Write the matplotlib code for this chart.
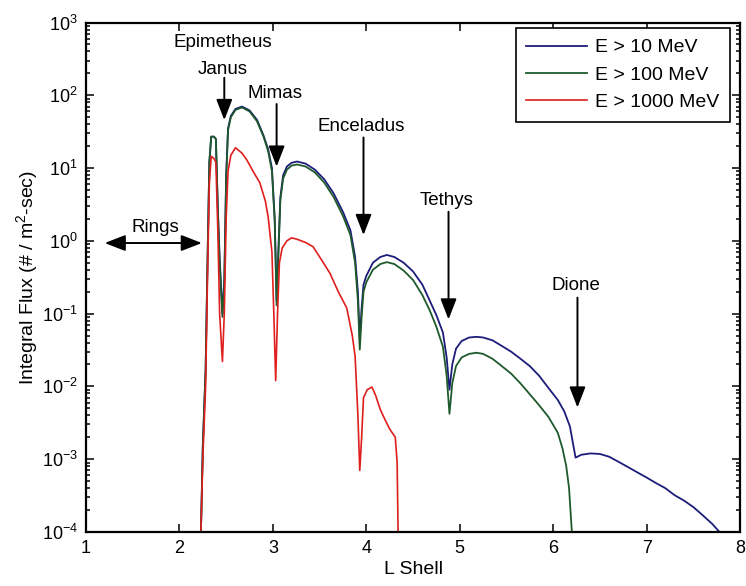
import matplotlib
matplotlib.use("Agg")
import matplotlib.pyplot as plt
from matplotlib.ticker import NullFormatter, FixedLocator, LogFormatterMathtext

plt.rcParams['font.family'] = ['Liberation Sans', 'DejaVu Sans']
plt.rcParams['mathtext.fontset'] = 'custom'
plt.rcParams['mathtext.rm'] = 'Liberation Sans'
plt.rcParams['mathtext.it'] = 'Liberation Sans'

# ---- data ----
L_blue = [2.23, 2.25, 2.28, 2.30, 2.32, 2.34, 2.37, 2.39, 2.41, 2.43, 2.46, 2.48, 2.50, 2.52,
          2.55, 2.60, 2.67, 2.75, 2.83, 2.90, 2.95, 2.99, 3.02, 3.04, 3.06, 3.08, 3.11, 3.15,
          3.20, 3.26, 3.35, 3.45, 3.55, 3.65, 3.75, 3.83, 3.88, 3.91, 3.93, 3.95, 3.97, 4.00,
          4.07, 4.15, 4.22, 4.30, 4.40, 4.50, 4.60, 4.68, 4.75, 4.82, 4.86, 4.89, 4.92, 4.96,
          5.02, 5.10, 5.18, 5.25, 5.35, 5.45, 5.55, 5.65, 5.75, 5.85, 5.95, 6.05, 6.12, 6.18,
          6.21, 6.24, 6.30, 6.40, 6.50, 6.60, 6.70, 6.80, 6.90, 7.00, 7.10, 7.20, 7.30, 7.40,
          7.50, 7.60, 7.70, 7.78]
F_blue = [1e-4, 1.5e-3, 0.017, 0.5, 12, 27, 27, 25, 3, 0.6, 0.1, 0.3, 8, 35,
          52, 65, 70, 62, 46, 28, 18, 10, 2, 0.15, 0.8, 4, 8, 10.5,
          11.8, 12.3, 11.5, 9.5, 7, 4.5, 2.5, 1.4, 0.6, 0.2, 0.045, 0.12, 0.25, 0.33,
          0.5, 0.6, 0.64, 0.6, 0.5, 0.38, 0.25, 0.15, 0.095, 0.055, 0.025, 0.009, 0.02, 0.033,
          0.042, 0.047, 0.048, 0.047, 0.043, 0.036, 0.03, 0.024, 0.019, 0.014, 0.0095, 0.0065, 0.0045, 0.0028,
          0.0017, 0.00105, 0.00115, 0.0012, 0.00118, 0.00108, 0.00092, 0.00078, 0.00066, 0.00056, 0.00047, 0.0004, 0.00032, 0.00027,
          0.00022, 0.00017, 0.00013, 0.0001]

L_green = [2.23, 2.25, 2.28, 2.30, 2.32, 2.34, 2.37, 2.39, 2.41, 2.43, 2.46, 2.48, 2.50, 2.52,
           2.55, 2.60, 2.67, 2.75, 2.83, 2.90, 2.95, 2.99, 3.02, 3.04, 3.06, 3.08, 3.11, 3.15,
           3.20, 3.26, 3.35, 3.45, 3.55, 3.65, 3.75, 3.83, 3.88, 3.91, 3.93, 3.95, 3.97, 4.00,
           4.07, 4.15, 4.22, 4.30, 4.40, 4.50, 4.60, 4.68, 4.75, 4.82, 4.86, 4.89, 4.92, 4.96,
           5.02, 5.10, 5.18, 5.25, 5.35, 5.45, 5.55, 5.65, 5.75, 5.85, 5.95, 6.05, 6.10, 6.14,
           6.17, 6.20]
F_green = [1e-4, 1.5e-3, 0.017, 0.5, 12, 27, 27, 25, 3, 0.5, 0.09, 0.25, 7, 33,
           50, 63, 68, 60, 44, 27, 17, 9, 1.8, 0.13, 0.7, 3.6, 7.2, 9.5,
           10.8, 11.2, 10.5, 8.7, 6.3, 4.0, 2.2, 1.2, 0.5, 0.15, 0.032, 0.09, 0.2, 0.27,
           0.4, 0.48, 0.51, 0.48, 0.39, 0.29, 0.18, 0.11, 0.066, 0.035, 0.014, 0.0042, 0.011, 0.019,
           0.025, 0.028, 0.029, 0.028, 0.024, 0.019, 0.015, 0.011, 0.0078, 0.0055, 0.0038, 0.0023, 0.0014, 0.0008,
           0.0004, 0.0001]

L_red = [2.23, 2.25, 2.28, 2.30, 2.32, 2.34, 2.37, 2.39, 2.41, 2.43, 2.46, 2.48, 2.50, 2.52,
         2.55, 2.60, 2.67, 2.72, 2.80, 2.86, 2.92, 2.95, 2.99, 3.01, 3.03, 3.05, 3.07, 3.10,
         3.15, 3.20, 3.26, 3.35, 3.43, 3.52, 3.61, 3.70, 3.79, 3.85, 3.88, 3.91, 3.93, 3.95,
         3.97, 4.01, 4.06, 4.10, 4.15, 4.20, 4.25, 4.31, 4.33, 4.34]
F_red = [1e-4, 1e-3, 0.01, 0.3, 6, 14.5, 13.5, 12, 1.5, 0.1, 0.022, 0.1, 2, 9,
         15, 19, 16, 13, 8.5, 6.3, 3.5, 2.1, 0.7, 0.1, 0.012, 0.1, 0.5, 0.8,
         1.0, 1.1, 1.05, 0.95, 0.83, 0.55, 0.36, 0.2, 0.12, 0.05, 0.026, 0.004, 0.0007, 0.002,
         0.007, 0.009, 0.0098, 0.0075, 0.0048, 0.0035, 0.0026, 0.002, 0.0009, 0.0001]

series_labels = ['E > 10 MeV', 'E > 100 MeV', 'E > 1000 MeV']
x_ticks = [1, 2, 3, 4, 5, 6, 7, 8]
y_ticks = [1e-4, 1e-3, 1e-2, 1e-1, 1e0, 1e1, 1e2, 1e3]

# moons: (name, L of arrow, text y, arrow top, arrow bottom)
moon_names = ['Mimas', 'Enceladus', 'Tethys', 'Dione']
moon_L = [3.04, 3.97, 4.88, 6.26]
moon_text_y = [10**2.03, 10**1.57, 10**0.56, 10**-0.62]
moon_arrow_top = [10**1.88, 10**1.42, 10**0.40, 10**-0.78]
moon_arrow_bot = [10**1.02, 10**0.08, 10**-1.08, 10**-2.29]

fig = plt.figure(figsize=(7.46, 5.86), dpi=100)
ax = fig.add_axes([0.1153, 0.0922, 0.8767, 0.8694])

ax.plot(L_blue, F_blue, color='#1c1c7a', lw=1.3, label=series_labels[0])
ax.plot(L_green, F_green, color='#1e5a2c', lw=1.3, label=series_labels[1])
ax.plot(L_red, F_red, color='#e01e1e', lw=1.2, label=series_labels[2])

ax.set_yscale('log')
ax.set_xlim(1, 8)
ax.set_ylim(1e-4, 1e3)
ax.xaxis.set_major_locator(FixedLocator(x_ticks))
ax.yaxis.set_major_locator(FixedLocator(y_ticks))
ax.yaxis.set_major_formatter(LogFormatterMathtext())
minor_y = [m * t for t in y_ticks[:-1] for m in range(2, 10)]
ax.yaxis.set_minor_locator(FixedLocator(minor_y))
ax.yaxis.set_minor_formatter(NullFormatter())
ax.tick_params(which='both', direction='in', top=True, right=True, labelsize=13, width=1.1)
ax.tick_params(which='major', length=6, pad=6)
ax.tick_params(which='minor', length=3)
for s in ax.spines.values():
    s.set_linewidth(1.6)

ax.set_xlabel('L Shell', fontsize=14, labelpad=3)
ax.set_ylabel('Integral Flux (# / m$^2$-sec)', fontsize=14, labelpad=1)

leg = ax.legend(loc='upper right', bbox_to_anchor=(0.985, 0.989), borderaxespad=0,
                fontsize=14, fancybox=False, edgecolor='black', framealpha=1,
                handlelength=3.1, borderpad=0.55, labelspacing=0.5, handletextpad=0.45)
leg.get_frame().set_linewidth(1.2)

fs = 13.5
akw = dict(arrowstyle='-|>,head_length=0.9,head_width=0.35', color='black', lw=1.4,
           shrinkA=0, shrinkB=0, mutation_scale=14)

# Epimetheus / Janus
ax.text(2.46, 10**2.72, 'Epimetheus', fontsize=fs, ha='center', va='center')
ax.text(2.46, 10**2.35, 'Janus', fontsize=fs, ha='center', va='center')
ax.annotate('', xy=(2.48, 10**1.66), xytext=(2.48, 10**2.24), arrowprops=akw)

for name, lx, ty, at, ab in zip(moon_names, moon_L, moon_text_y, moon_arrow_top, moon_arrow_bot):
    ax.text(lx - 0.02, ty, name, fontsize=fs, ha='center', va='center')
    ax.annotate('', xy=(lx, ab), xytext=(lx, at), arrowprops=akw)

# Rings
ax.text(1.74, 10**0.19, 'Rings', fontsize=fs, ha='center', va='center')
ax.annotate('', xy=(2.24, 10**-0.03), xytext=(1.2, 10**-0.03),
            arrowprops=dict(arrowstyle='<|-|>,head_length=0.9,head_width=0.35', color='black',
                            lw=1.4, shrinkA=0, shrinkB=0, mutation_scale=14))

fig.savefig('out.png', dpi=100)
